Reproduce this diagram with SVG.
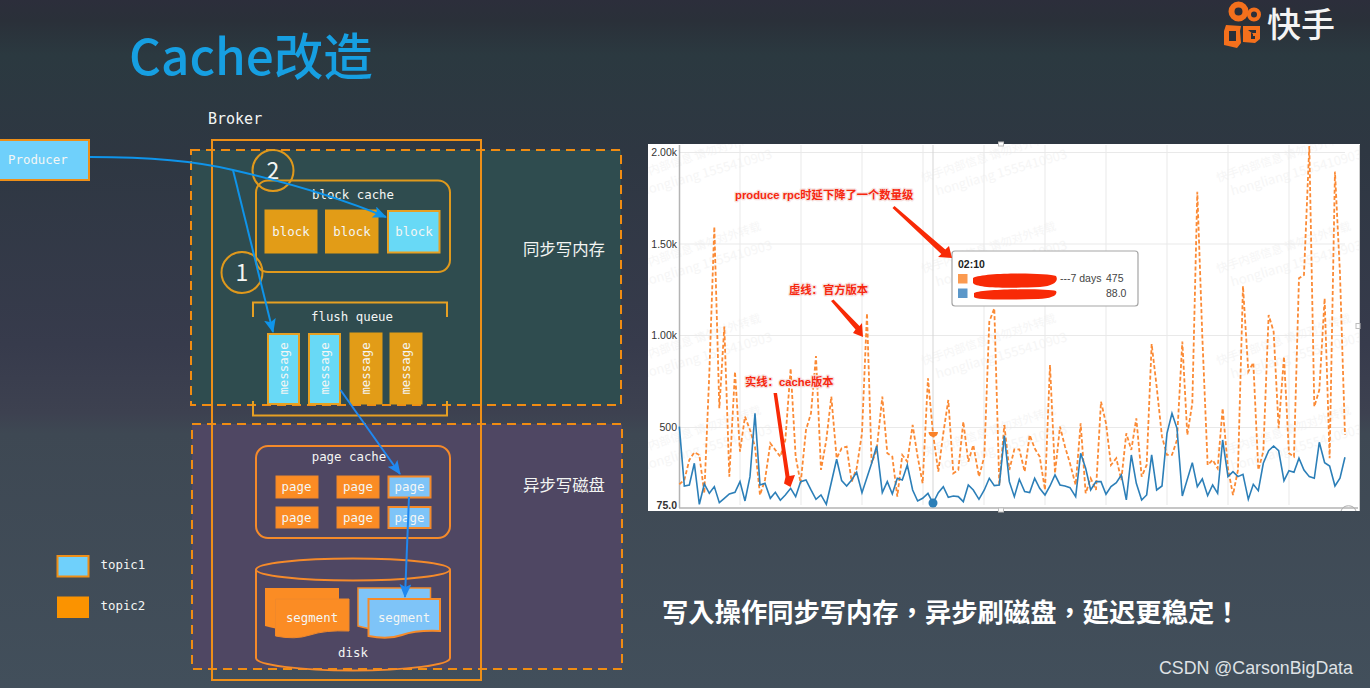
<svg xmlns="http://www.w3.org/2000/svg" xmlns:xlink="http://www.w3.org/1999/xlink" width="1370" height="688" viewBox="0 0 1370 688">
<style>
.mono{font-family:"DejaVu Sans Mono","Liberation Mono",monospace;font-size:12.4px;fill:#f4f6f4}
.ctr{text-anchor:middle}
.cjk{font-family:"Noto Sans CJK SC","Noto Sans",sans-serif}
.o{fill:none;stroke:#ee8f18;stroke-width:2}
.dash{stroke:#f08c12;stroke-width:2;stroke-dasharray:9 6}
.round{fill:none;stroke:#e0991c;stroke-width:2}
.round2{fill:none;stroke:#f58a2a;stroke-width:2}
.blk{fill:#e29c17;stroke:#e29c17;stroke-width:1}
.cy{fill:#68d9f6;stroke:#e6a023;stroke-width:2}
.pg{fill:#fb8c24;stroke:#f0882a;stroke-width:1}
.pb{fill:#7ec4f8;stroke:#f58a2a;stroke-width:2}
.conn{fill:none;stroke:#0f94ea;stroke-width:2}
.ax{font-family:"Liberation Sans",Arial,sans-serif;font-size:10.5px;fill:#333;text-anchor:end}
.grid{stroke:#e9e9e9;stroke-width:1}
.ann{font-family:"Liberation Sans","Noto Sans CJK SC",sans-serif;font-size:11.3px;font-weight:700;fill:#f6270f;stroke:#f6e2df;stroke-width:2.5px;paint-order:stroke;stroke-linejoin:round}
.tt{font-family:"Liberation Sans",Arial,sans-serif;font-size:10.5px;fill:#444}
.wm{font-family:"Noto Sans CJK SC","Liberation Sans",sans-serif;font-size:11.5px;fill:#f6f6f6}
.red{fill:#f82a06}
</style>
<defs>
<linearGradient id="bg" x1="0" y1="0" x2="0" y2="1">
<stop offset="0" stop-color="#2c2e3b"/>
<stop offset="0.03" stop-color="#2a3039"/>
<stop offset="0.08" stop-color="#2b3940"/>
<stop offset="0.22" stop-color="#2e3742"/>
<stop offset="0.5" stop-color="#373b4c"/>
<stop offset="0.6" stop-color="#3d4150"/>
<stop offset="0.63" stop-color="#3e4853"/>
<stop offset="1" stop-color="#424f5b"/>
</linearGradient>
<marker id="ah" markerUnits="userSpaceOnUse" markerWidth="14" markerHeight="12" refX="13" refY="6" orient="auto"><path d="M0 0L14 6L0 12L3 6Z" fill="#0f94ea"/></marker>
<marker id="ah2" markerUnits="userSpaceOnUse" markerWidth="14" markerHeight="12" refX="13" refY="6" orient="auto"><path d="M0 0L14 6L0 12L3 6Z" fill="#2088f0"/></marker>
<clipPath id="cc"><rect x="648" y="144" width="712" height="367"/></clipPath>
<g id="wm"><text class="wm" x="0" y="0" transform="rotate(-18)">快手内部信息 请勿对外转载</text><text class="wm" x="10" y="17" style="font-size:13px" transform="rotate(-16)">hongliang 1555410903</text></g>
</defs>
<rect width="1370" height="688" fill="url(#bg)"/>
<text id="title" x="129" y="75" class="cjk" font-size="49.500" font-weight="500" fill="#169fe2">Cache改造</text>
<g id="logo">
<path d="M1224 31l2-6 15 1-1 5 1 12-4 5-13-3z M1243 26h17v13l-5 4-12-1z" fill="#f4701c"/>
<circle cx="1238.500" cy="11.500" r="7" fill="none" stroke="#f4701c" stroke-width="6"/>
<circle cx="1254" cy="14.500" r="5" fill="none" stroke="#f4701c" stroke-width="4"/>
<path d="M1229 31h7v10h-7z M1248 30h8v3h-5v6h4v-3h-2v-2" fill="#2a3039"/>
<text x="1267" y="37" class="cjk" font-size="34" font-weight="500" fill="#f4f4f4">快手</text>
</g>
<text x="208" y="124" class="mono" style="font-size:15px">Broker</text>
<g id="sync-zone"><rect x="191" y="150" width="430" height="255" fill="#2f4c4f" class="dash"/><text x="564" y="255" class="cjk ctr" font-size="16.4" fill="#f2f4f2">同步写内存</text></g>
<g id="async-zone"><rect x="192" y="424" width="430" height="245" fill="#4f4763" class="dash"/><text x="564" y="491" class="cjk ctr" font-size="16.4" fill="#f2f4f2">异步写磁盘</text></g>
<g id="broker"><rect x="212" y="140" width="269" height="540" class="o"/></g>
<g id="producer"><rect x="-3" y="140" width="92" height="40" fill="#6fd0fb" stroke="#ee8f18" stroke-width="2"/><text x="8" y="164" class="mono">Producer</text></g>
<g id="block-cache">
<rect x="256" y="180.500" width="194" height="91.500" rx="12" class="round"/>
<text x="353" y="199" class="mono ctr">block cache</text>
<rect x="265" y="210" width="52" height="43" class="blk"/><text x="291" y="236" class="mono ctr">block</text>
<rect x="325.500" y="210" width="52.500" height="43" class="blk"/><text x="352" y="236" class="mono ctr">block</text>
<rect x="388" y="211" width="51.500" height="41.500" class="cy"/><text x="414" y="236" class="mono ctr">block</text>
</g>
<g id="step2"><circle cx="273" cy="170.500" r="20.500" fill="none" stroke="#e0991c" stroke-width="2"/><text x="273" y="179" class="cjk ctr" font-size="23" fill="#f4f6f4">2</text></g>
<g id="step1"><circle cx="242" cy="272.500" r="20.500" fill="none" stroke="#e0991c" stroke-width="2"/><text x="242" y="281" class="cjk ctr" font-size="23" fill="#f4f6f4">1</text></g>
<g id="flush-queue">
<path d="M253 317V302.500H447V317M253 401V415.500H447V401" fill="none" stroke="#e6a023" stroke-width="2"/>
<text x="352" y="321" class="mono ctr">flush queue</text>
<rect x="268" y="334" width="31" height="70" class="cy"/><text transform="translate(287.500 368.500) rotate(-90)" class="mono ctr">message</text>
<rect x="309" y="334" width="31" height="70" class="cy"/><text transform="translate(328.500 368.500) rotate(-90)" class="mono ctr">message</text>
<rect x="350" y="333" width="32" height="71" class="blk"/><text transform="translate(369.500 368.500) rotate(-90)" class="mono ctr">message</text>
<rect x="390" y="333" width="32" height="71" class="blk"/><text transform="translate(410 368.500) rotate(-90)" class="mono ctr">message</text>
</g>
<g id="page-cache">
<rect x="256" y="446" width="194" height="92" rx="12" class="round2"/>
<text x="349" y="461" class="mono ctr">page cache</text>
<rect x="276" y="476" width="42" height="22" class="pg"/><text x="296.500" y="491" class="mono ctr">page</text>
<rect x="337" y="476" width="42" height="22" class="pg"/><text x="358" y="491" class="mono ctr">page</text>
<rect x="388.500" y="476.500" width="42" height="21" class="pb"/><text x="409.500" y="491" class="mono ctr">page</text>
<rect x="276" y="507" width="42" height="21" class="pg"/><text x="296.500" y="522" class="mono ctr">page</text>
<rect x="337" y="507" width="42" height="21" class="pg"/><text x="358" y="522" class="mono ctr">page</text>
<rect x="388.500" y="507" width="42" height="21" class="pb"/><text x="409.500" y="522" class="mono ctr">page</text>
</g>
<g id="disk">
<path d="M256 569.500V658C256 665 300 670.500 353 670.500S450 665 450 658V569.500" class="round2"/>
<ellipse cx="353" cy="569.500" rx="97" ry="11" class="round2"/>
<path d="M265 588H339V628H300Q285 632 265 626Z" fill="#fb8c24"/>
<path d="M275.500 599H349V631Q325 630 310 635T275.500 636Z" fill="#fb8c24" stroke="#f0882a"/>
<text x="312" y="622" class="mono ctr">segment</text>
<path d="M358 588H430.500V628H395Q378 632 358 626Z" fill="#7ec4f8" stroke="#f58a2a" stroke-width="1.500"/>
<path d="M368.500 599H440V631Q416 630 402 635T368.500 636Z" fill="#7ec4f8" stroke="#f58a2a" stroke-width="2"/>
<text x="404" y="622" class="mono ctr">segment</text>
<text x="353" y="657" class="mono ctr">disk</text>
</g>
<g id="legend-topic1"><rect x="57.500" y="556" width="31" height="20.500" fill="#6fd0fb" stroke="#ee8f18" stroke-width="2"/><text x="100.500" y="569" class="mono">topic1</text></g>
<g id="legend-topic2"><rect x="57" y="596.500" width="32" height="21.500" fill="#fb9300"/><text x="100.500" y="610" class="mono">topic2</text></g>
<g id="connectors">
<path d="M90 157C150 157 200 162 233 170C285 182 340 198 386 217" class="conn" marker-end="url(#ah)"/>
<path d="M233 170L273 332" class="conn" marker-end="url(#ah)"/>
<path d="M340.500 390L400 474" class="conn" style="stroke:#2088f0" marker-end="url(#ah2)"/>
<path d="M409 497L405 597" class="conn" style="stroke:#2088f0" marker-end="url(#ah2)"/>
</g>
<g id="chart">
<rect x="648" y="144" width="712" height="367" fill="#fff"/>
<g clip-path="url(#cc)">
<use xlink:href="#wm" href="#wm" x="628" y="182"/><use xlink:href="#wm" href="#wm" x="628" y="273"/><use xlink:href="#wm" href="#wm" x="628" y="365"/><use xlink:href="#wm" href="#wm" x="628" y="457"/>
<use xlink:href="#wm" href="#wm" x="923" y="182"/><use xlink:href="#wm" href="#wm" x="923" y="273"/><use xlink:href="#wm" href="#wm" x="923" y="365"/><use xlink:href="#wm" href="#wm" x="923" y="457"/>
<use xlink:href="#wm" href="#wm" x="1218" y="182"/><use xlink:href="#wm" href="#wm" x="1218" y="273"/><use xlink:href="#wm" href="#wm" x="1218" y="365"/><use xlink:href="#wm" href="#wm" x="1218" y="457"/>
</g>
<path class="grid" d="M679 152.500H1345M679 244H1345M679 335.500H1345M679 427.500H1345M740 145V505M801 145V505M862 145V505M923 145V505M984 145V505M1045 145V505M1106 145V505M1167 145V505M1228 145V505M1289 145V505"/>
<path d="M933 145V505" stroke="#d5d5d5"/>
<path d="M679.500 145V508M679 508H1358" fill="none" stroke="#b4b4b4" stroke-width="1.500"/>
<path d="M1359.500 145V511" stroke="#ccc"/>
<text class="ax" x="677" y="156">2.00k</text><text class="ax" x="677" y="248">1.50k</text><text class="ax" x="677" y="339">1.00k</text><text class="ax" x="677" y="431">500</text><text class="ax" x="677" y="509" font-weight="700">75.0</text>
<g id="series-dashed" fill="none" stroke="#fb8a35">
<polyline transform="translate(645 140) scale(.3333)" stroke-width="5.400" stroke-dasharray="12 7" points="103,1033 118,1020 133,960 148,937 163,945 178,1060 193,700 208,260 223,805 238,560 253,1010 270,695 285,935 300,830 315,870 330,920 345,1065 360,1020 376,910 391,930 406,950 421,900 437,685 452,950 467,1030 483,870 498,820 513,648 528,990 544,900 559,770 575,955 590,925 605,920 620,1025 635,985 651,880 666,520 680,970 695,930 712,770 727,940 742,950 757,1070 772,945 787,965 803,855 818,950 833,1030 849,715 864,880 880,995 895,880 910,780 925,1000 940,990 955,845 970,965 985,915 1002,1010 1018,950 1033,545 1048,505 1063,1035 1078,855"/>
<polyline transform="translate(1000 140) scale(.3333)" stroke-width="5.400" stroke-dasharray="12 7" points="13,855 28,990 43,928 58,928 74,995 89,885 104,925 119,950 135,1050 150,675 165,1000 180,860 195,920 210,970 227,1035 242,850 257,1060 272,1015 288,1050 303,785 318,850 333,975 349,955 364,1020 379,880 394,930 409,835 425,1010 440,975 455,612 470,740 486,890 501,945 516,945 531,900 547,605 562,885 577,790 592,155 607,590 623,975 638,960 653,985 668,805 684,985 699,1065 714,990 729,438 745,695 760,668 775,990 790,935 806,525 821,575 836,865 852,650 867,940 882,950 897,415 912,405 928,18 943,800 958,750 974,475 989,955 1005,95 1020,400 1035,885"/>
</g>
<g id="series-solid" fill="none" stroke="#2c7fb8">
<polyline transform="translate(645 140) scale(.3333)" stroke-width="4.800" points="103,860 118,1038 133,1035 148,970 163,1093 178,1032 193,1060 208,1040 223,1088 238,1075 253,1062 270,1057 285,1025 300,1083 315,1010 330,820 345,1035 360,1030 376,1075 391,1057 406,1081 421,1065 437,1045 452,1070 467,1025 483,1020 498,1050 513,1078 528,1065 544,1093 575,958 590,1022 605,1038 620,1020 635,997 651,1058 680,970 695,918 712,1058 727,1025 742,1062 757,1015 772,1020 787,975 803,1050 818,1083 833,1075 849,1060 864,1090 880,1058 895,1040 910,1072 925,1068 940,1070 955,1085 970,1035 985,1050 1002,1078 1018,1050 1033,1015 1048,1037 1063,1035 1078,890"/>
<polyline transform="translate(1000 140) scale(.3333)" stroke-width="4.800" points="13,887 28,1025 43,1070 58,1018 74,1055 89,1058 104,1015 119,1045 135,1065 150,1038 165,1005 180,1035 195,1038 210,1043 227,1070 242,940 257,985 272,1050 288,1025 303,1025 318,1063 333,1040 349,1028 364,1005 379,1080 394,945 409,1030 425,1080 440,1065 455,945 470,1050 486,1038 501,880 516,820 531,865 547,1068 577,968 592,1040 607,1017 623,1067 638,1035 653,1060 668,900 684,1010 699,995 714,1010 729,1003 745,1078 760,1033 775,1052 790,970 806,932 821,918 836,932 852,1022 867,992 882,997 897,955 912,990 928,1010 943,1015 958,907 974,968 989,978 1005,1038 1020,1015 1035,952"/>
</g>
<path d="M928.500 432H938A4.700 5 0 0 1 928.500 432Z" fill="#f9822a"/>
<circle cx="933" cy="503" r="4.500" fill="#2c7fb8"/>
<rect x="998.500" y="142" width="5" height="4" fill="#fff" stroke="#bbb"/><rect x="998.500" y="508" width="5" height="4" fill="#fff" stroke="#bbb"/><rect x="1356" y="323.500" width="4" height="5" fill="#fff" stroke="#bbb"/>
<path d="M1341 511A8 8 0 0 1 1356 511" fill="none" stroke="#aaa"/>
<g id="tooltip">
<rect x="952" y="251" width="186" height="55" rx="3" fill="#fff" fill-opacity=".95" stroke="#a5a5a5" stroke-width="1.200"/>
<text x="958" y="268" class="tt" font-weight="700" style="fill:#222">02:10</text>
<rect x="958" y="274" width="9.500" height="9.500" fill="#fb9a50"/><rect x="958" y="288.500" width="9.500" height="9.500" fill="#5b97c9"/>
<path d="M973 278C985 272 1048 273 1056 276C1059 281 1054 286 1040 287C1005 288.500 976 288 973 283Z" class="red"/>
<path d="M974 293C985 288.500 1048 288.500 1056 291C1058 295 1052 298.500 1038 299C1005 300 976 300 974 297Z" class="red"/>
<text x="1060" y="282" class="tt">---7 days</text><text x="1106" y="282" class="tt">475</text><text x="1106" y="297" class="tt">88.0</text>
</g>
<text x="735" y="199" class="ann">produce rpc时延下降了一个数量级</text>
<text x="789" y="294" class="ann">虚线：官方版本</text>
<text x="745" y="386" class="ann">实线：cache版本</text>
<path d="M892.500 208L894.500 206L945.300 249.400L949 246L952 258L938 257L941.300 254Z" class="red"/>
<path d="M831 301L833.500 299.500L859.500 326L862 323L863 337L853 333L855.500 329.500Z" class="red"/>
<path d="M773.500 393L777 393L789.500 476L795 475L790.500 487L784 483.500L785.500 477Z" class="red"/>
</g>
<text id="headline" x="662" y="622" font-family="'Noto Sans CJK TC','Noto Sans CJK SC',sans-serif" font-size="26.300" font-weight="700" fill="#fff">写入操作同步写内存，异步刷磁盘，延迟更稳定！</text>
<text id="credit" x="1159" y="674" font-family="'Liberation Sans',Arial,sans-serif" font-size="17.800" fill="#dfe2e5">CSDN @CarsonBigData</text>
</svg>
